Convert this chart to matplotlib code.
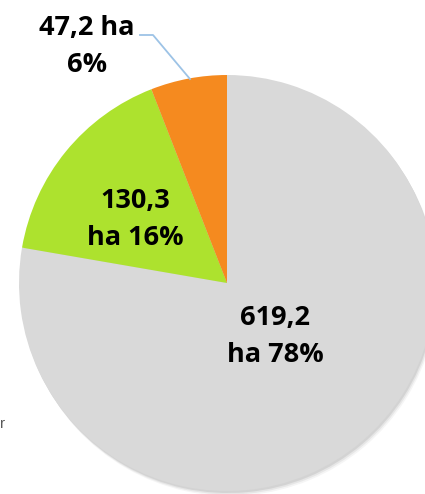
import matplotlib.pyplot as plt

# areas per class (ha), Excel-order going clockwise from 12 o'clock
values = [619.2, 130.3, 47.2]
percents = [78, 16, 6]
colors = ['#D9D9D9', '#ADE22E', '#F58A1F']

W, H = 425, 494
fig = plt.figure(figsize=(W / 100, H / 100), dpi=100)
ax = fig.add_axes([0, 0, 1, 1])

cx, cy, r = 227, H - 283, 208

# soft shadow under the pie
for k, a in [(5, 0.08), (3.5, 0.12), (2, 0.18)]:
    ax.pie(values, startangle=90, counterclock=False, radius=r,
           center=(cx + k * 0.6, cy - k), colors=['#808080'] * 3,
           wedgeprops=dict(alpha=a, linewidth=0), frame=True)

ax.pie(values, startangle=90, counterclock=False, radius=r,
       center=(cx, cy), colors=colors,
       wedgeprops=dict(linewidth=0), frame=True)
ax.set_xlim(0, W)
ax.set_ylim(0, H)
ax.set_aspect('equal')
ax.axis('off')

font = dict(family=['Open Sans', 'DejaVu Sans'], fontsize=19.5, fontweight='bold',
            color='black', ha='center', va='center', linespacing=1.55)

def fmt(v):
    return f'{v:.1f}'.replace('.', ',')

ax.text(275, H - 336, f'{fmt(values[0])}\nha {percents[0]}%', **font)
ax.text(135, H - 219, f'{fmt(values[1])}\nha {percents[1]}%', **font)
ax.text(87, H - 46, f'{fmt(values[2])} ha\n{percents[2]}%', **font)

# leader line for the small slice
ax.plot([140, 153, 190], [H - 35, H - 35, H - 79], color='#9DC3E6', lw=1.3)

# clipped legend fragment at the left edge
ax.text(0, H - 424, 'r', fontsize=11, color='#595959', ha='left', va='center',
        family='Liberation Sans')

fig.savefig('out.png', dpi=100)
